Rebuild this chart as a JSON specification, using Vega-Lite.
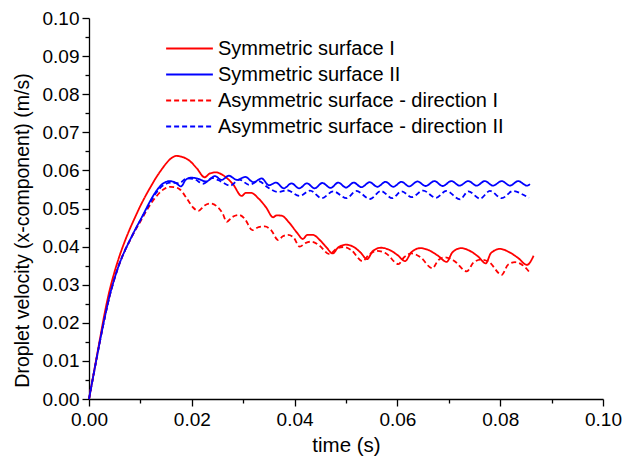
{
  "$schema": "https://vega.github.io/schema/vega-lite/v6.json",
  "width": 514,
  "height": 381,
  "autosize": {"type": "none"},
  "padding": {"left": 89, "top": 18, "right": 20, "bottom": 65},
  "background": "white",
  "config": {
    "view": {"stroke": null},
    "font": "Liberation Sans",
    "axis": {"labelFont": "Liberation Sans", "titleFont": "Liberation Sans", "labelColor": "black", "titleColor": "black", "domainColor": "black", "tickColor": "black", "domainWidth": 1.3, "tickWidth": 1.3, "grid": false, "titleFontWeight": "normal", "labelFontSize": 19, "titleFontSize": 20.5},
    "legend": {"labelFont": "Liberation Sans", "labelFontSize": 20, "labelColor": "black"}
  },
  "data": {"values": [
    {"s":"Symmetric surface I","t":0,"v":0},{"s":"Symmetric surface I","t":0.001,"v":0.0074},{"s":"Symmetric surface I","t":0.002,"v":0.0148},{"s":"Symmetric surface I","t":0.003,"v":0.0222},{"s":"Symmetric surface I","t":0.004,"v":0.0285},{"s":"Symmetric surface I","t":0.005,"v":0.0335},{"s":"Symmetric surface I","t":0.006,"v":0.0378},{"s":"Symmetric surface I","t":0.007,"v":0.0415},{"s":"Symmetric surface I","t":0.008,"v":0.0448},{"s":"Symmetric surface I","t":0.009,"v":0.0478},{"s":"Symmetric surface I","t":0.01,"v":0.0507},{"s":"Symmetric surface I","t":0.011,"v":0.0533},{"s":"Symmetric surface I","t":0.012,"v":0.0557},{"s":"Symmetric surface I","t":0.013,"v":0.058},{"s":"Symmetric surface I","t":0.014,"v":0.06},{"s":"Symmetric surface I","t":0.015,"v":0.0618},{"s":"Symmetric surface I","t":0.016,"v":0.0632},{"s":"Symmetric surface I","t":0.017,"v":0.0638},{"s":"Symmetric surface I","t":0.018,"v":0.0636},{"s":"Symmetric surface I","t":0.0195,"v":0.0626},{"s":"Symmetric surface I","t":0.021,"v":0.0605},{"s":"Symmetric surface I","t":0.0225,"v":0.0582},{"s":"Symmetric surface I","t":0.0235,"v":0.0592},{"s":"Symmetric surface I","t":0.0247,"v":0.0595},{"s":"Symmetric surface I","t":0.026,"v":0.0588},{"s":"Symmetric surface I","t":0.028,"v":0.0564},{"s":"Symmetric surface I","t":0.0297,"v":0.0533},{"s":"Symmetric surface I","t":0.0305,"v":0.0541},{"s":"Symmetric surface I","t":0.0315,"v":0.0541},{"s":"Symmetric surface I","t":0.033,"v":0.0526},{"s":"Symmetric surface I","t":0.0345,"v":0.0502},{"s":"Symmetric surface I","t":0.0358,"v":0.0477},{"s":"Symmetric surface I","t":0.0365,"v":0.0482},{"s":"Symmetric surface I","t":0.0375,"v":0.0481},{"s":"Symmetric surface I","t":0.039,"v":0.0462},{"s":"Symmetric surface I","t":0.0405,"v":0.0436},{"s":"Symmetric surface I","t":0.0416,"v":0.042},{"s":"Symmetric surface I","t":0.0425,"v":0.0431},{"s":"Symmetric surface I","t":0.0435,"v":0.0431},{"s":"Symmetric surface I","t":0.045,"v":0.0416},{"s":"Symmetric surface I","t":0.0462,"v":0.0398},{"s":"Symmetric surface I","t":0.0474,"v":0.0382},{"s":"Symmetric surface I","t":0.0485,"v":0.0398},{"s":"Symmetric surface I","t":0.05,"v":0.0405},{"s":"Symmetric surface I","t":0.0515,"v":0.0399},{"s":"Symmetric surface I","t":0.0528,"v":0.0385},{"s":"Symmetric surface I","t":0.0541,"v":0.0367},{"s":"Symmetric surface I","t":0.0552,"v":0.0388},{"s":"Symmetric surface I","t":0.0568,"v":0.0397},{"s":"Symmetric surface I","t":0.0585,"v":0.0391},{"s":"Symmetric surface I","t":0.06,"v":0.0378},{"s":"Symmetric surface I","t":0.0615,"v":0.0362},{"s":"Symmetric surface I","t":0.0627,"v":0.0385},{"s":"Symmetric surface I","t":0.0645,"v":0.0396},{"s":"Symmetric surface I","t":0.0662,"v":0.039},{"s":"Symmetric surface I","t":0.0678,"v":0.0377},{"s":"Symmetric surface I","t":0.0696,"v":0.036},{"s":"Symmetric surface I","t":0.0707,"v":0.0385},{"s":"Symmetric surface I","t":0.0724,"v":0.0396},{"s":"Symmetric surface I","t":0.0742,"v":0.0388},{"s":"Symmetric surface I","t":0.0757,"v":0.0374},{"s":"Symmetric surface I","t":0.0772,"v":0.0356},{"s":"Symmetric surface I","t":0.0782,"v":0.0383},{"s":"Symmetric surface I","t":0.08,"v":0.0394},{"s":"Symmetric surface I","t":0.0818,"v":0.0385},{"s":"Symmetric surface I","t":0.0835,"v":0.037},{"s":"Symmetric surface I","t":0.0852,"v":0.0352},{"s":"Symmetric surface I","t":0.0865,"v":0.0376},

    {"s":"Symmetric surface II","t":0,"v":0},{"s":"Symmetric surface II","t":0.001,"v":0.0072},{"s":"Symmetric surface II","t":0.002,"v":0.0143},{"s":"Symmetric surface II","t":0.003,"v":0.021},{"s":"Symmetric surface II","t":0.004,"v":0.027},{"s":"Symmetric surface II","t":0.005,"v":0.0318},{"s":"Symmetric surface II","t":0.006,"v":0.0358},{"s":"Symmetric surface II","t":0.007,"v":0.039},{"s":"Symmetric surface II","t":0.008,"v":0.0418},{"s":"Symmetric surface II","t":0.009,"v":0.0445},{"s":"Symmetric surface II","t":0.01,"v":0.047},{"s":"Symmetric surface II","t":0.011,"v":0.0496},{"s":"Symmetric surface II","t":0.012,"v":0.0522},{"s":"Symmetric surface II","t":0.013,"v":0.0544},{"s":"Symmetric surface II","t":0.014,"v":0.0561},{"s":"Symmetric surface II","t":0.015,"v":0.057},{"s":"Symmetric surface II","t":0.0157,"v":0.0572},{"s":"Symmetric surface II","t":0.0168,"v":0.0568},{"s":"Symmetric surface II","t":0.0179,"v":0.0558},{"s":"Symmetric surface II","t":0.0188,"v":0.0575},{"s":"Symmetric surface II","t":0.0198,"v":0.0581},{"s":"Symmetric surface II","t":0.021,"v":0.0579},{"s":"Symmetric surface II","t":0.0228,"v":0.0571},{"s":"Symmetric surface II","t":0.0245,"v":0.0585},{"s":"Symmetric surface II","t":0.0258,"v":0.0575},{"s":"Symmetric surface II","t":0.0272,"v":0.0586},{"s":"Symmetric surface II","t":0.0288,"v":0.0575},{"s":"Symmetric surface II","t":0.0304,"v":0.0583},{"s":"Symmetric surface II","t":0.032,"v":0.0569},{"s":"Symmetric surface II","t":0.0336,"v":0.0579},{"s":"Symmetric surface II","t":0.035,"v":0.0561},{"s":"Symmetric surface II","t":0.0364,"v":0.0568},{"s":"Symmetric surface II","t":0.0379,"v":0.0553},{"s":"Symmetric surface II","t":0.0394,"v":0.0566},{"s":"Symmetric surface II","t":0.0409,"v":0.0553},{"s":"Symmetric surface II","t":0.0424,"v":0.0566},{"s":"Symmetric surface II","t":0.0439,"v":0.0553},{"s":"Symmetric surface II","t":0.0454,"v":0.0567},{"s":"Symmetric surface II","t":0.047,"v":0.0554},{"s":"Symmetric surface II","t":0.0485,"v":0.0568},{"s":"Symmetric surface II","t":0.05,"v":0.0555},{"s":"Symmetric surface II","t":0.0515,"v":0.0568},{"s":"Symmetric surface II","t":0.053,"v":0.0556},{"s":"Symmetric surface II","t":0.0546,"v":0.0569},{"s":"Symmetric surface II","t":0.0561,"v":0.0557},{"s":"Symmetric surface II","t":0.0577,"v":0.057},{"s":"Symmetric surface II","t":0.0592,"v":0.0557},{"s":"Symmetric surface II","t":0.0608,"v":0.057},{"s":"Symmetric surface II","t":0.0623,"v":0.0558},{"s":"Symmetric surface II","t":0.0639,"v":0.0571},{"s":"Symmetric surface II","t":0.0655,"v":0.0559},{"s":"Symmetric surface II","t":0.0672,"v":0.0572},{"s":"Symmetric surface II","t":0.0688,"v":0.0559},{"s":"Symmetric surface II","t":0.0705,"v":0.0572},{"s":"Symmetric surface II","t":0.0721,"v":0.056},{"s":"Symmetric surface II","t":0.0738,"v":0.0572},{"s":"Symmetric surface II","t":0.0754,"v":0.056},{"s":"Symmetric surface II","t":0.077,"v":0.0572},{"s":"Symmetric surface II","t":0.0786,"v":0.056},{"s":"Symmetric surface II","t":0.0803,"v":0.0572},{"s":"Symmetric surface II","t":0.0819,"v":0.056},{"s":"Symmetric surface II","t":0.0835,"v":0.0572},{"s":"Symmetric surface II","t":0.0852,"v":0.056},{"s":"Symmetric surface II","t":0.0858,"v":0.0564},

    {"s":"Asymmetric surface - direction I","t":0,"v":0},{"s":"Asymmetric surface - direction I","t":0.001,"v":0.0072},{"s":"Asymmetric surface - direction I","t":0.002,"v":0.0143},{"s":"Asymmetric surface - direction I","t":0.003,"v":0.021},{"s":"Asymmetric surface - direction I","t":0.004,"v":0.027},{"s":"Asymmetric surface - direction I","t":0.005,"v":0.0318},{"s":"Asymmetric surface - direction I","t":0.006,"v":0.0358},{"s":"Asymmetric surface - direction I","t":0.007,"v":0.039},{"s":"Asymmetric surface - direction I","t":0.008,"v":0.0417},{"s":"Asymmetric surface - direction I","t":0.009,"v":0.0443},{"s":"Asymmetric surface - direction I","t":0.01,"v":0.0466},{"s":"Asymmetric surface - direction I","t":0.011,"v":0.049},{"s":"Asymmetric surface - direction I","t":0.012,"v":0.0512},{"s":"Asymmetric surface - direction I","t":0.013,"v":0.053},{"s":"Asymmetric surface - direction I","t":0.014,"v":0.0545},{"s":"Asymmetric surface - direction I","t":0.015,"v":0.0554},{"s":"Asymmetric surface - direction I","t":0.0158,"v":0.0557},{"s":"Asymmetric surface - direction I","t":0.0167,"v":0.0556},{"s":"Asymmetric surface - direction I","t":0.0177,"v":0.055},{"s":"Asymmetric surface - direction I","t":0.019,"v":0.0527},{"s":"Asymmetric surface - direction I","t":0.0203,"v":0.0502},{"s":"Asymmetric surface - direction I","t":0.0213,"v":0.0494},{"s":"Asymmetric surface - direction I","t":0.0225,"v":0.0508},{"s":"Asymmetric surface - direction I","t":0.0237,"v":0.0513},{"s":"Asymmetric surface - direction I","t":0.025,"v":0.0504},{"s":"Asymmetric surface - direction I","t":0.026,"v":0.0487},{"s":"Asymmetric surface - direction I","t":0.0268,"v":0.0465},{"s":"Asymmetric surface - direction I","t":0.0278,"v":0.0477},{"s":"Asymmetric surface - direction I","t":0.0292,"v":0.0483},{"s":"Asymmetric surface - direction I","t":0.0303,"v":0.0473},{"s":"Asymmetric surface - direction I","t":0.0318,"v":0.0443},{"s":"Asymmetric surface - direction I","t":0.033,"v":0.0451},{"s":"Asymmetric surface - direction I","t":0.0342,"v":0.0453},{"s":"Asymmetric surface - direction I","t":0.0355,"v":0.0442},{"s":"Asymmetric surface - direction I","t":0.0368,"v":0.0417},{"s":"Asymmetric surface - direction I","t":0.0377,"v":0.0427},{"s":"Asymmetric surface - direction I","t":0.0387,"v":0.0431},{"s":"Asymmetric surface - direction I","t":0.0398,"v":0.0424},{"s":"Asymmetric surface - direction I","t":0.041,"v":0.04},{"s":"Asymmetric surface - direction I","t":0.0422,"v":0.041},{"s":"Asymmetric surface - direction I","t":0.0433,"v":0.0413},{"s":"Asymmetric surface - direction I","t":0.0448,"v":0.0403},{"s":"Asymmetric surface - direction I","t":0.0468,"v":0.038},{"s":"Asymmetric surface - direction I","t":0.048,"v":0.0393},{"s":"Asymmetric surface - direction I","t":0.0495,"v":0.0399},{"s":"Asymmetric surface - direction I","t":0.051,"v":0.0391},{"s":"Asymmetric surface - direction I","t":0.0532,"v":0.0362},{"s":"Asymmetric surface - direction I","t":0.0545,"v":0.0379},{"s":"Asymmetric surface - direction I","t":0.056,"v":0.0389},{"s":"Asymmetric surface - direction I","t":0.0578,"v":0.0382},{"s":"Asymmetric surface - direction I","t":0.0602,"v":0.0354},{"s":"Asymmetric surface - direction I","t":0.0613,"v":0.0372},{"s":"Asymmetric surface - direction I","t":0.0628,"v":0.0382},{"s":"Asymmetric surface - direction I","t":0.0645,"v":0.0372},{"s":"Asymmetric surface - direction I","t":0.0668,"v":0.0343},{"s":"Asymmetric surface - direction I","t":0.068,"v":0.0365},{"s":"Asymmetric surface - direction I","t":0.0693,"v":0.0372},{"s":"Asymmetric surface - direction I","t":0.071,"v":0.0363},{"s":"Asymmetric surface - direction I","t":0.0735,"v":0.0335},{"s":"Asymmetric surface - direction I","t":0.0748,"v":0.0358},{"s":"Asymmetric surface - direction I","t":0.0762,"v":0.0366},{"s":"Asymmetric surface - direction I","t":0.0778,"v":0.036},{"s":"Asymmetric surface - direction I","t":0.0803,"v":0.0326},{"s":"Asymmetric surface - direction I","t":0.0815,"v":0.0352},{"s":"Asymmetric surface - direction I","t":0.0829,"v":0.0359},{"s":"Asymmetric surface - direction I","t":0.0843,"v":0.0352},{"s":"Asymmetric surface - direction I","t":0.0858,"v":0.0331},

    {"s":"Asymmetric surface - direction II","t":0,"v":0},{"s":"Asymmetric surface - direction II","t":0.001,"v":0.0072},{"s":"Asymmetric surface - direction II","t":0.002,"v":0.0143},{"s":"Asymmetric surface - direction II","t":0.003,"v":0.021},{"s":"Asymmetric surface - direction II","t":0.004,"v":0.027},{"s":"Asymmetric surface - direction II","t":0.005,"v":0.0318},{"s":"Asymmetric surface - direction II","t":0.006,"v":0.0358},{"s":"Asymmetric surface - direction II","t":0.007,"v":0.039},{"s":"Asymmetric surface - direction II","t":0.008,"v":0.0418},{"s":"Asymmetric surface - direction II","t":0.009,"v":0.0444},{"s":"Asymmetric surface - direction II","t":0.01,"v":0.0469},{"s":"Asymmetric surface - direction II","t":0.011,"v":0.0493},{"s":"Asymmetric surface - direction II","t":0.012,"v":0.0518},{"s":"Asymmetric surface - direction II","t":0.013,"v":0.054},{"s":"Asymmetric surface - direction II","t":0.014,"v":0.0556},{"s":"Asymmetric surface - direction II","t":0.015,"v":0.0565},{"s":"Asymmetric surface - direction II","t":0.016,"v":0.0568},{"s":"Asymmetric surface - direction II","t":0.0175,"v":0.0566},{"s":"Asymmetric surface - direction II","t":0.019,"v":0.0579},{"s":"Asymmetric surface - direction II","t":0.0205,"v":0.0577},{"s":"Asymmetric surface - direction II","t":0.0222,"v":0.0565},{"s":"Asymmetric surface - direction II","t":0.024,"v":0.058},{"s":"Asymmetric surface - direction II","t":0.0258,"v":0.057},{"s":"Asymmetric surface - direction II","t":0.0275,"v":0.056},{"s":"Asymmetric surface - direction II","t":0.0292,"v":0.0576},{"s":"Asymmetric surface - direction II","t":0.0312,"v":0.0562},{"s":"Asymmetric surface - direction II","t":0.033,"v":0.0572},{"s":"Asymmetric surface - direction II","t":0.0348,"v":0.0555},{"s":"Asymmetric surface - direction II","t":0.0368,"v":0.0543},{"s":"Asymmetric surface - direction II","t":0.0385,"v":0.0548},{"s":"Asymmetric surface - direction II","t":0.041,"v":0.0533},{"s":"Asymmetric surface - direction II","t":0.043,"v":0.0547},{"s":"Asymmetric surface - direction II","t":0.0453,"v":0.0527},{"s":"Asymmetric surface - direction II","t":0.0475,"v":0.0545},{"s":"Asymmetric surface - direction II","t":0.0501,"v":0.0527},{"s":"Asymmetric surface - direction II","t":0.052,"v":0.0546},{"s":"Asymmetric surface - direction II","t":0.0547,"v":0.0525},{"s":"Asymmetric surface - direction II","t":0.0568,"v":0.0546},{"s":"Asymmetric surface - direction II","t":0.059,"v":0.0527},{"s":"Asymmetric surface - direction II","t":0.0608,"v":0.0545},{"s":"Asymmetric surface - direction II","t":0.0628,"v":0.053},{"s":"Asymmetric surface - direction II","t":0.065,"v":0.0547},{"s":"Asymmetric surface - direction II","t":0.0675,"v":0.0528},{"s":"Asymmetric surface - direction II","t":0.0695,"v":0.0546},{"s":"Asymmetric surface - direction II","t":0.0722,"v":0.0524},{"s":"Asymmetric surface - direction II","t":0.0738,"v":0.0545},{"s":"Asymmetric surface - direction II","t":0.0761,"v":0.0526},{"s":"Asymmetric surface - direction II","t":0.078,"v":0.0546},{"s":"Asymmetric surface - direction II","t":0.0803,"v":0.0527},{"s":"Asymmetric surface - direction II","t":0.0825,"v":0.0546},{"s":"Asymmetric surface - direction II","t":0.0845,"v":0.0536},{"s":"Asymmetric surface - direction II","t":0.0856,"v":0.0528}
  ]},
  "mark": {"type": "line", "interpolate": "monotone", "strokeWidth": 1.8},
  "encoding": {
    "x": {"field": "t", "type": "quantitative", "scale": {"domain": [0, 0.1], "nice": false, "zero": false},
      "axis": {"title": "time (s)", "values": [0,0.01,0.02,0.03,0.04,0.05,0.06,0.07,0.08,0.09,0.1],
        "labelExpr": "round(datum.value*1000) % 20 === 0 ? format(datum.value, '.2f') : ''",
        "tickSize": {"condition": {"test": "round(datum.value*1000) % 20 !== 0", "value": 4}, "value": 7},
        "labelPadding": 4, "titlePadding": 6, "labelFlush": false, "labelOverlap": false}},
    "y": {"field": "v", "type": "quantitative", "scale": {"domain": [0, 0.1], "nice": false, "zero": false},
      "axis": {"title": "Droplet velocity (x-component) (m/s)", "values": [0,0.005,0.01,0.015,0.02,0.025,0.03,0.035,0.04,0.045,0.05,0.055,0.06,0.065,0.07,0.075,0.08,0.085,0.09,0.095,0.1],
        "labelExpr": "round(datum.value*1000) % 10 === 0 ? format(datum.value, '.2f') : ''",
        "tickSize": {"condition": {"test": "round(datum.value*1000) % 10 !== 0", "value": 4}, "value": 7},
        "labelPadding": 3, "titlePadding": 10, "titleY": 212, "titleFontSize": 19.5, "labelFlush": false, "labelOverlap": false}},
    "color": {"field": "s", "type": "nominal",
      "scale": {"domain": ["Symmetric surface I", "Symmetric surface II", "Asymmetric surface - direction I", "Asymmetric surface - direction II"], "range": ["#ff0000", "#0000ff", "#ff0000", "#0000ff"]},
      "legend": {"title": null, "orient": "none", "legendX": 90, "legendY": 20, "symbolType": "M-2.5,0H2.5", "symbolSize": 350, "symbolStrokeWidth": 2, "labelOffset": 18, "rowPadding": 5, "padding": 0, "labelLimit": 500}},
    "strokeDash": {"field": "s", "type": "nominal",
      "scale": {"domain": ["Symmetric surface I", "Symmetric surface II", "Asymmetric surface - direction I", "Asymmetric surface - direction II"], "range": [[1, 0], [1, 0], [5, 3], [5, 3]]},
      "legend": {"title": null, "orient": "none", "legendX": 90, "legendY": 20, "symbolType": "M-2.5,0H2.5", "symbolSize": 350, "symbolStrokeWidth": 2, "labelOffset": 18, "rowPadding": 5, "padding": 0, "labelLimit": 500}}
  }
}
